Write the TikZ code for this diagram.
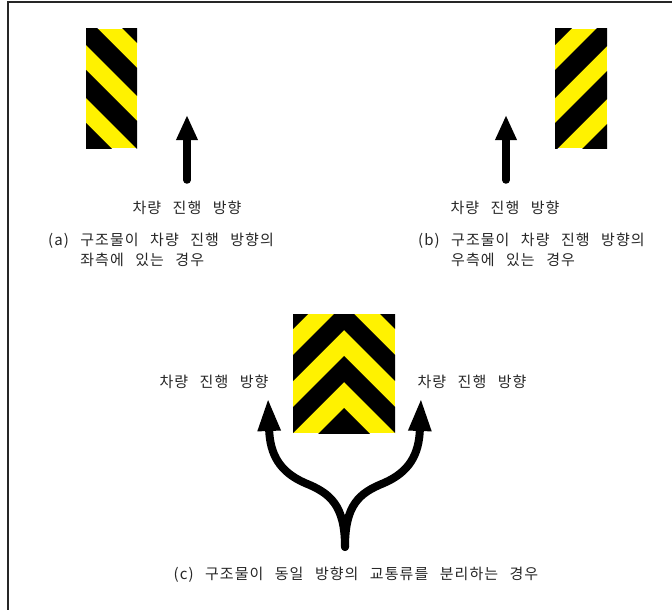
\documentclass[tikz,border=0pt]{standalone}
\usepackage{fontspec}
\setmainfont{Noto Sans CJK KR}[WordSpace=2.6, LetterSpace=7]
\usetikzlibrary{arrows.meta}

\tikzset{
  flow/.style={line width=7.5pt, line cap=round, -{Triangle[length=25pt,width=20pt]}},
  fork/.style={line width=8pt, line cap=round, -{Triangle[length=33pt,width=21pt]}},
  dirtext/.style={inner sep=0pt, text=black!85},
  casetext/.style={inner sep=0pt, align=left, text=black!85}
}

\begin{document}
\begin{tikzpicture}[x=1pt, y=-1pt, font=\fontsize{15}{20}\selectfont]
    \useasboundingbox (0,0) rectangle (672,610);

    % Frame: top and left edges
    \draw[black!85, line width=1.5pt] (672,2) -- (8,2) -- (8,610);

    % Sign (a): stripes falling to the right
    \begin{scope}
      \clip (86,29) rectangle (137,148);
      \fill[yellow] (86,29) rectangle (137,148);
      \foreach \y in {-36,17,70,123}
        \fill[black] (86,\y) -- (86,\y+28) -- (146,\y+88) -- (146,\y+60) -- cycle;
    \end{scope}

    % Sign (b): stripes rising to the right
    \begin{scope}
      \clip (555,29) rectangle (607,148);
      \fill[yellow] (555,29) rectangle (607,148);
      \foreach \y in {17,70,123,176}
        \fill[black] (555,\y) -- (555,\y+28) -- (615,\y-32) -- (615,\y-60) -- cycle;
    \end{scope}

    % Sign (c): chevrons
    \begin{scope}
      \clip (293,314) rectangle (395,433);
      \fill[yellow] (293,314) rectangle (395,433);
      \foreach \a in {252,304,356,408}
        \fill[black] (293,\a+51) -- (344,\a) -- (395,\a+51) -- (395,\a+77)
          -- (344,\a+26) -- (293,\a+77) -- cycle;
    \end{scope}

    % Arrows: straight travel directions
    \coordinate (a-tail) at (187,180);
    \coordinate (a-tip) at (187,115);
    \coordinate (b-tail) at (506,180);
    \coordinate (b-tip) at (506,115);
    \draw[flow] (a-tail) -- (a-tip);
    \draw[flow] (b-tail) -- (b-tip);

    % Labels: straight travel directions
    \node[dirtext] (a-dir) at (187,208) {차량 진행 방향};
    \node[dirtext] (b-dir) at (505,208) {차량 진행 방향};

    % Labels: cases (a) and (b)
    \node[casetext, anchor=north west] (a-case) at (48,233)
      {(a) 구조물이 차량 진행 방향의\\\phantom{(a) }좌측에 있는 경우};
    \node[casetext, anchor=north west] (b-case) at (418,233)
      {(b) 구조물이 차량 진행 방향의\\\phantom{(b) }우측에 있는 경우};

    % Arrows: splitting flow
    \coordinate (c-root) at (345,547);
    \coordinate (c-left) at (268,398);
    \coordinate (c-right) at (421,398);
    \draw[fork] (c-root) .. controls (345,505) and (330,493) .. (305,483)
      .. controls (280,472) and (270,455) .. (c-left);
    \draw[fork] (c-root) .. controls (345,505) and (359,493) .. (384,483)
      .. controls (409,472) and (419,455) .. (c-right);

    % Labels: splitting flow
    \node[dirtext] (c-dir-l) at (214,382) {차량 진행 방향};
    \node[dirtext] (c-dir-r) at (472,382) {차량 진행 방향};
    \node[dirtext] (c-case) at (356,575) {(c) 구조물이 동일 방향의 교통류를 분리하는 경우};
\end{tikzpicture}
\end{document}
